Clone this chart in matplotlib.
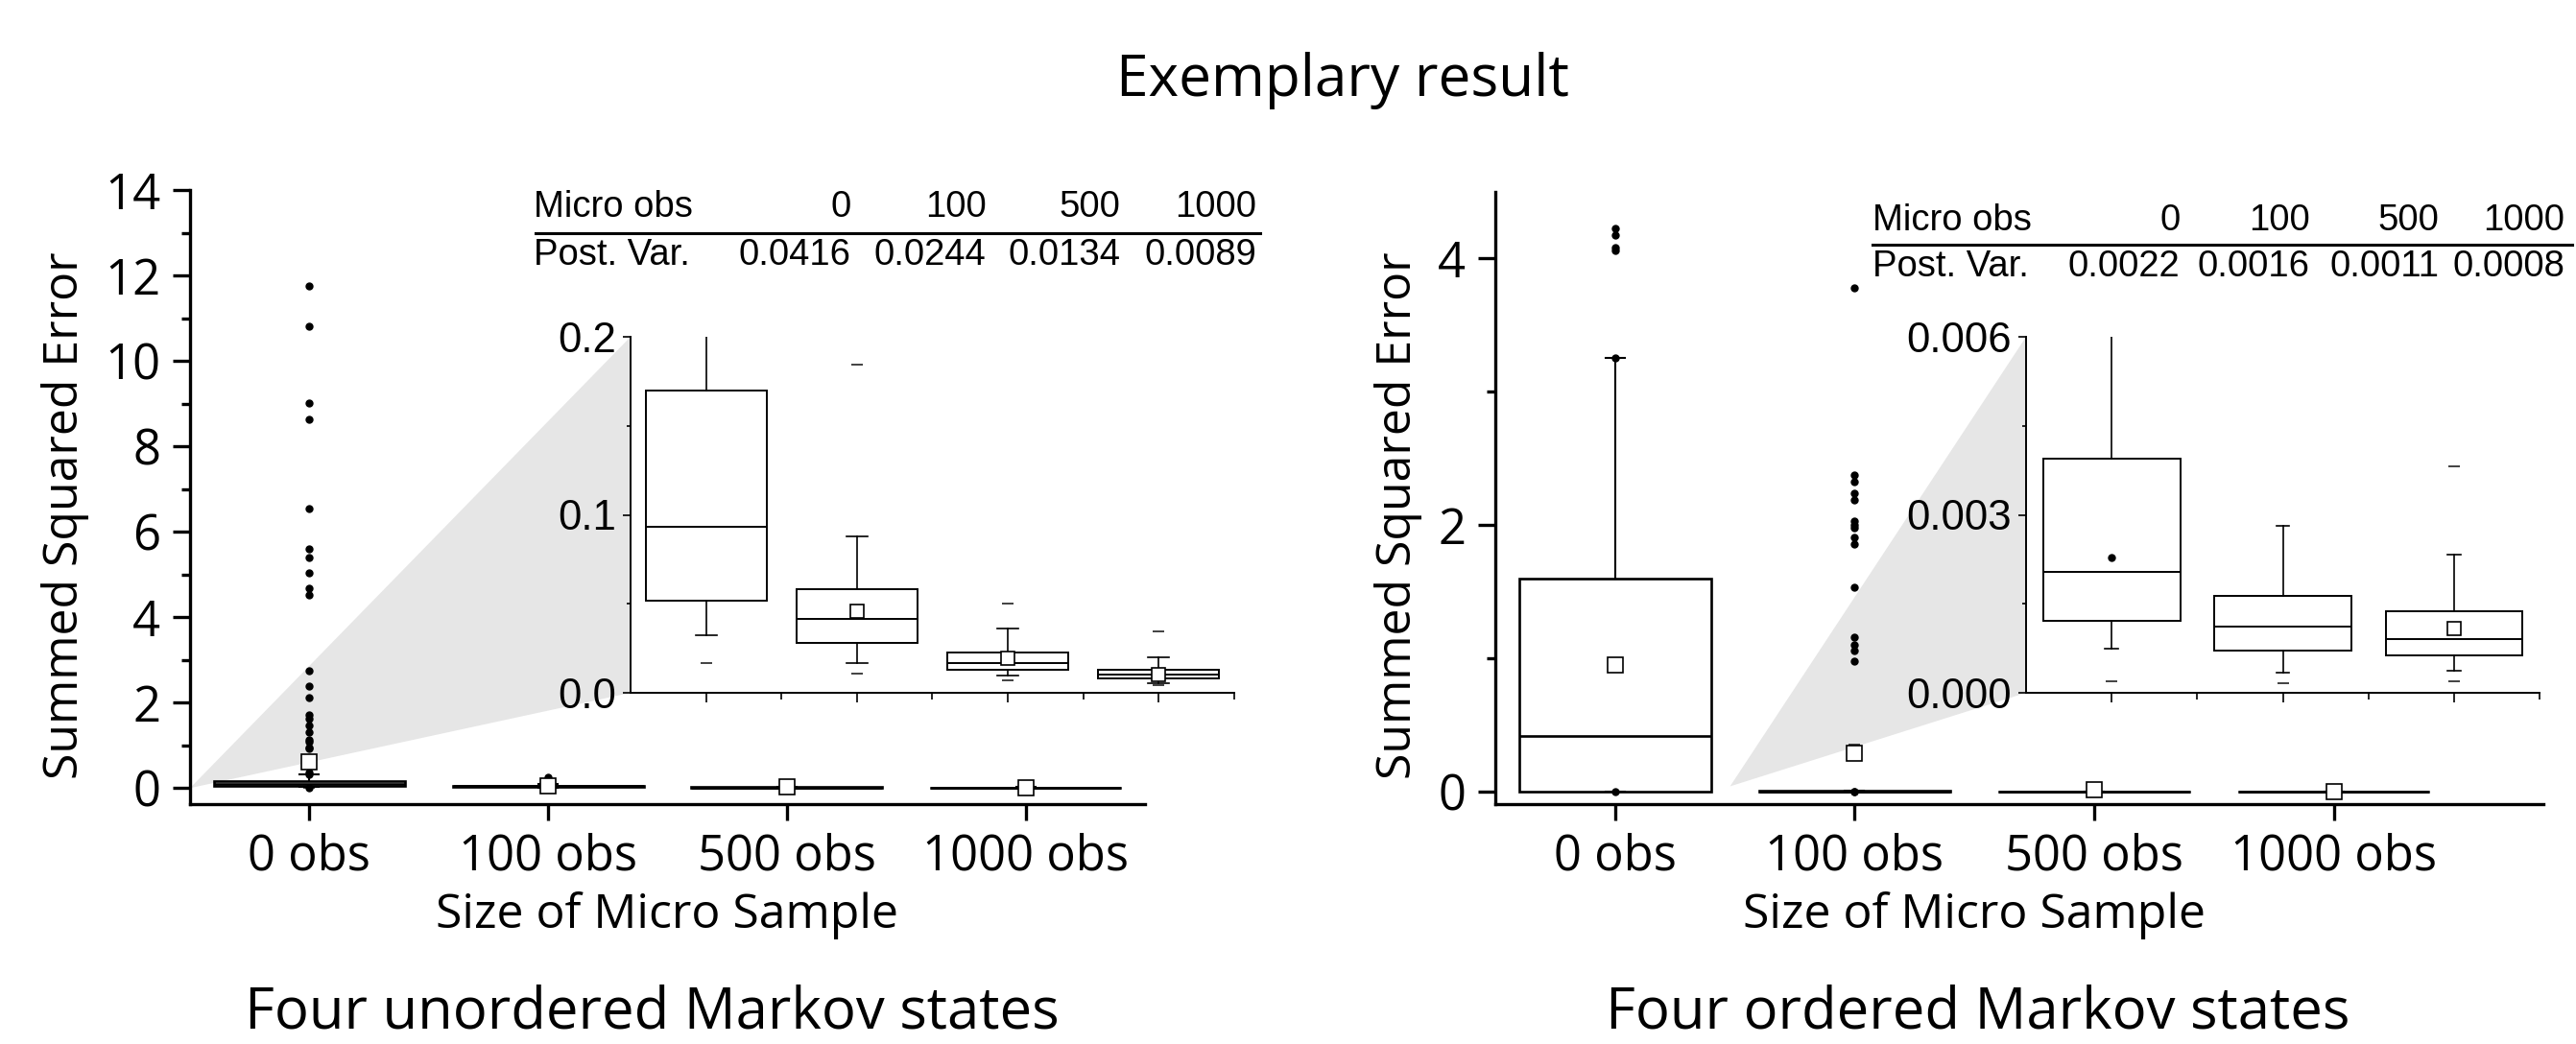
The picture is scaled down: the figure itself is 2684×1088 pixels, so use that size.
import numpy as np
import matplotlib
matplotlib.use("Agg")
import matplotlib.pyplot as plt
from matplotlib.patches import Polygon
from matplotlib.lines import Line2D
from matplotlib.ticker import MultipleLocator, FixedLocator, FormatStrFormatter

plt.rcParams['font.family'] = ['Open Sans', 'DejaVu Sans']

# ------------------------------------------------------------------ data
categories = ["0 obs", "100 obs", "500 obs", "1000 obs"]
micro_obs = ["0", "100", "500", "1000"]
post_var_unordered = ["0.0416", "0.0244", "0.0134", "0.0089"]
post_var_ordered = ["0.0022", "0.0016", "0.0011", "0.0008"]

nan = np.nan
# Four unordered Markov states
unord_q1 = [0.052, 0.0283, 0.0129, 0.0081]
unord_med = [0.0933, 0.0415, 0.0167, 0.0101]
unord_q3 = [0.1696, 0.0582, 0.0229, 0.0127]
unord_whislo = [0.0324, 0.0169, 0.0097, 0.0056]
unord_whishi = [0.31, 0.088, 0.0361, 0.0202]
unord_mean = [0.62, 0.0458, 0.0196, 0.0105]
unord_p1 = [0.0169, 0.011, 0.0068, 0.0045]
unord_p99 = [nan, 0.1845, 0.0504, 0.0345]
unord_min = [0.0, nan, nan, nan]
unord_fliers = [
    [11.77, 10.82, 9.01, 8.64, 6.54, 5.60, 5.41, 5.04, 4.69, 4.52,
     2.74, 2.39, 2.11, 1.71, 1.62, 1.47, 1.30, 1.13, 1.08, 0.95, 0.93,
     0.36, 0.33],
    [0.25],
    [],
    [],
]

# Four ordered Markov states
ord_q1 = [0.0, 0.00121, 0.000718, 0.00063]
ord_med = [0.417, 0.00203, 0.00112, 0.000898]
ord_q3 = [1.595, 0.003946, 0.00164, 0.00137]
ord_whislo = [0.0, 0.000744, 0.00034, 0.00037]
ord_whishi = [3.25, 0.0078, 0.00281, 0.00233]
ord_mean = [0.952, 0.288, 0.012, 0.00108]
ord_p1 = [nan, 0.000186, 0.00016, 0.000197]
ord_p99 = [nan, 0.35, nan, 0.00382]
ord_min = [0.0, 0.0, nan, nan]
ord_fliers = [
    [4.22, 4.17, 4.08, 4.06, 3.25],
    [3.78, 2.374, 2.326, 2.24, 2.19, 2.027, 2.0, 1.98, 1.906, 1.858,
     1.535, 1.16, 1.10, 1.055, 0.976, 0.00228],
    [],
    [],
]

# ------------------------------------------------------------------ layout
W, H = 2684, 1088
fig = plt.figure(figsize=(W / 100, H / 100), dpi=100)


def fx(x):
    return x / W


def fy(y):
    return 1 - y / H


def make_stats(q1, med, q3, lo, hi, mean, fliers):
    out = []
    for i in range(len(q1)):
        out.append(dict(q1=q1[i], med=med[i], q3=q3[i], whislo=lo[i],
                        whishi=hi[i], mean=mean[i],
                        fliers=np.array(fliers[i], dtype=float)))
    return out


def draw(ax, stats, positions, box_lw, whisk_lw, capw, mean_ms, dot_ms,
         dash_ms, p1, p99, mins=None):
    ax.bxp(stats, positions=positions, widths=0.8, capwidths=capw,
           showmeans=True, showfliers=True, patch_artist=True,
           boxprops=dict(facecolor='white', edgecolor='black', linewidth=box_lw),
           medianprops=dict(color='black', linewidth=box_lw),
           whiskerprops=dict(color='black', linewidth=whisk_lw),
           capprops=dict(color='black', linewidth=whisk_lw),
           meanprops=dict(marker='s', markerfacecolor='white',
                          markeredgecolor='black', markersize=mean_ms,
                          markeredgewidth=1.2),
           flierprops=dict(marker='o', markerfacecolor='black',
                           markeredgecolor='black', markersize=dot_ms,
                           linestyle='none'),
           manage_ticks=False, zorder=2)
    pos = np.asarray(positions, dtype=float)
    for arr in (p1, p99):
        a = np.asarray(arr, dtype=float)
        m = ~np.isnan(a)
        ax.plot(pos[m], a[m], linestyle='none', marker='_', markersize=dash_ms,
                markeredgewidth=1.3, color='#333333', zorder=1.9)
    if mins is not None:
        a = np.asarray(mins, dtype=float)
        m = ~np.isnan(a)
        ax.plot(pos[m], a[m], linestyle='none', marker='o', markersize=dot_ms,
                color='black', zorder=3)


def style_main(ax):
    for s in ('top', 'right'):
        ax.spines[s].set_visible(False)
    for s in ('left', 'bottom'):
        ax.spines[s].set_linewidth(2.4)
    ax.tick_params(axis='y', which='major', direction='out', length=13,
                   width=2.4, pad=9, labelsize=36.5)
    ax.tick_params(axis='y', which='minor', direction='out', length=6.5,
                   width=2.4)
    ax.tick_params(axis='x', which='major', direction='out', length=12.2,
                   width=2.4, pad=9, labelsize=36.5)
    ax.set_xticks([1, 2, 3, 4])
    ax.set_xticklabels(categories)


def style_inset(ax):
    for s in ('top', 'right'):
        ax.spines[s].set_visible(False)
    for s in ('left', 'bottom'):
        ax.spines[s].set_linewidth(1.4)
    ax.tick_params(axis='y', which='major', direction='out', length=5.8,
                   width=1.2, pad=5, labelsize=31.5,
                   labelfontfamily='Liberation Sans')
    ax.tick_params(axis='y', which='minor', direction='out', length=3,
                   width=1.2)
    ax.tick_params(axis='x', which='major', direction='out', length=7,
                   width=1.2, labelbottom=False)
    ax.tick_params(axis='x', which='minor', direction='out', length=4.7,
                   width=1.2, labelbottom=False)
    ax.set_facecolor('white')


positions = [1, 2, 3, 4]

# ---------------------------------------------------------- left panel
axL = fig.add_axes([fx(198), fy(838.2), fx(995), 639.9 / H])
axL.set_xlim(0.5, 4.5)
axL.set_ylim(-0.38, 14)
style_main(axL)
axL.yaxis.set_major_locator(MultipleLocator(2))
axL.yaxis.set_minor_locator(MultipleLocator(1))
axL.set_ylabel('Summed Squared Error', fontsize=36)
axL.yaxis.label.set_verticalalignment('center')
axL.yaxis.set_label_coords(-0.1307, 0.471)
axL.set_xlabel('Size of Micro Sample', fontsize=36)
axL.xaxis.set_label_coords(0.5, -0.1417)

stats_unord = make_stats(unord_q1, unord_med, unord_q3, unord_whislo,
                         unord_whishi, unord_mean, unord_fliers)
draw(axL, stats_unord, positions, 1.9, 1.5, 0.08, 12, 5, 8, unord_p1,
     unord_p99, unord_min)

insL = fig.add_axes([fx(657), fy(722), fx(629), 371 / H])
insL.set_xlim(0.5, 4.5)
insL.set_ylim(0, 0.2)
style_inset(insL)
insL.xaxis.set_major_locator(FixedLocator([1, 2, 3, 4]))
insL.xaxis.set_minor_locator(FixedLocator([1.5, 2.5, 3.5, 4.5]))
insL.yaxis.set_major_locator(MultipleLocator(0.1))
insL.yaxis.set_minor_locator(MultipleLocator(0.05))
insL.yaxis.set_major_formatter(FormatStrFormatter('%.1f'))
draw(insL, stats_unord, positions, 1.4, 1.2, 0.14, 10, 5, 8, unord_p1,
     unord_p99)

# ---------------------------------------------------------- right panel
axR = fig.add_axes([fx(1558), fy(838.1), fx(1092), 638.6 / H])
axR.set_xlim(0.5, 4.875)
axR.set_ylim(-0.094, 4.5)
style_main(axR)
axR.yaxis.set_major_locator(MultipleLocator(2))
axR.yaxis.set_minor_locator(MultipleLocator(1))
axR.set_ylabel('Summed Squared Error', fontsize=36)
axR.yaxis.label.set_verticalalignment('center')
axR.yaxis.set_label_coords(-0.0925, 0.4715)
axR.set_xlabel('Size of Micro Sample', fontsize=36)
axR.xaxis.set_label_coords(0.457, -0.1422)

stats_ord = make_stats(ord_q1, ord_med, ord_q3, ord_whislo, ord_whishi,
                       ord_mean, ord_fliers)
draw(axR, stats_ord, positions, 1.9, 1.5, 0.08, 12, 5, 8, ord_p1, ord_p99,
     ord_min)

insR = fig.add_axes([fx(2111), fy(722), fx(535), 371 / H])
insR.set_xlim(0.5, 3.5)
insR.set_ylim(0, 0.006)
style_inset(insR)
insR.xaxis.set_major_locator(FixedLocator([1, 2, 3]))
insR.xaxis.set_minor_locator(FixedLocator([1.5, 2.5, 3.5]))
insR.yaxis.set_major_locator(MultipleLocator(0.003))
insR.yaxis.set_minor_locator(MultipleLocator(0.0015))
insR.yaxis.set_major_formatter(FormatStrFormatter('%.3f'))
draw(insR, stats_ord[1:], [1, 2, 3], 1.4, 1.2, 0.075, 10, 5, 8, ord_p1[1:],
     ord_p99[1:])

# ---------------------------------------------------------- zoom wedges
def wedge(ax_main, ax_in, apex):
    inv = ax_main.transData.inverted()
    top = inv.transform(ax_in.transAxes.transform((0, 1)))
    bot = inv.transform(ax_in.transAxes.transform((0, 0)))
    poly = Polygon([apex, tuple(top), tuple(bot)], closed=True,
                   facecolor='#e6e6e6', edgecolor='none', zorder=0.5,
                   clip_on=False)
    ax_main.add_patch(poly)


wedge(axL, insL, (0.5, 0.0))
wedge(axR, insR, (1.48, 0.04))

# ---------------------------------------------------------- tables
def table(x_left, cols, line_x0, line_x1, y1, yline, y2, values):
    kw = dict(va='baseline', fontsize=27.5, family='Liberation Sans')
    fig.text(fx(x_left), fy(y1), 'Micro obs', ha='left', **kw)
    fig.text(fx(x_left), fy(y2), 'Post. Var.', ha='left', **kw)
    for c, a, b in zip(cols, micro_obs, values):
        fig.text(fx(c), fy(y1), a, ha='right', **kw)
        fig.text(fx(c), fy(y2), b, ha='right', **kw)
    fig.add_artist(Line2D([fx(line_x0), fx(line_x1)], [fy(yline), fy(yline)],
                          color='black', linewidth=2.2,
                          transform=fig.transFigure))


table(556, [886.5, 1027.5, 1167.5, 1309.5], 558, 1313, 226, 243, 276.4,
      post_var_unordered)
table(1951, [2271.5, 2406.5, 2541.5, 2672], 1951, 2680, 240, 255.4, 288.5,
      post_var_ordered)

# ---------------------------------------------------------- titles
fig.text(fx(1399), fy(100.5), 'Exemplary result', ha='center',
         va='baseline', fontsize=43.5)
fig.text(fx(679), fy(1072), 'Four unordered Markov states', ha='center',
         va='baseline', fontsize=43)
fig.text(fx(2061), fy(1072), 'Four ordered Markov states', ha='center',
         va='baseline', fontsize=43)

fig.savefig('out.png', dpi=100)
